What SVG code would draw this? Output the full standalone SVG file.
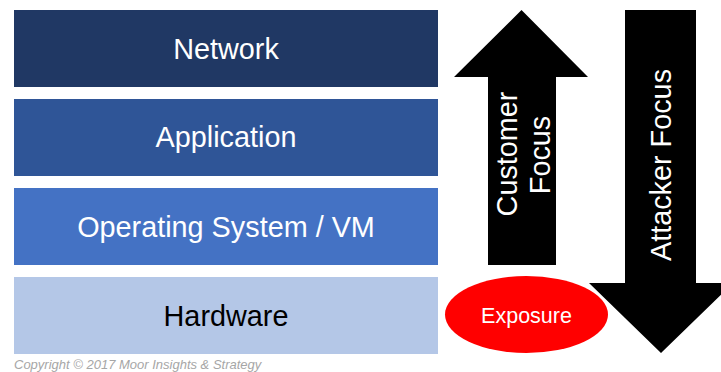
<svg xmlns="http://www.w3.org/2000/svg" width="721" height="372" viewBox="0 0 721 372">
  <style>
    .lbl { font-family: "Liberation Sans", Arial, sans-serif; font-size: 28.8px; text-anchor: middle; }
    .w { fill: #ffffff; }
    .arrow { fill: #000000; }
    .copy { font-family: "Liberation Sans", Arial, sans-serif; font-size: 13px; font-style: italic; fill: #A6A6A6; }
  </style>
  <rect width="721" height="372" fill="#ffffff"/>
  <g id="network">
    <rect x="14" y="10" width="424" height="77" fill="#203864"/>
    <text class="lbl w" x="226" y="59">Network</text>
  </g>
  <g id="application">
    <rect x="14" y="99" width="424" height="77" fill="#2F5597"/>
    <text class="lbl w" x="226" y="147">Application</text>
  </g>
  <g id="os">
    <rect x="14" y="188" width="424" height="77" fill="#4472C4"/>
    <text class="lbl w" x="226" y="237">Operating System / VM</text>
  </g>
  <g id="hardware">
    <rect x="14" y="277" width="424" height="77" fill="#B4C7E7"/>
    <text class="lbl" x="226" y="326" fill="#000000">Hardware</text>
  </g>
  <g id="customer-focus">
    <polygon class="arrow" points="521.5,10 588,77 556,77 556,265 488,265 488,77 454,77"/>
    <text class="lbl w" transform="translate(517,154) rotate(-90)" x="0" y="0">Customer</text>
    <text class="lbl w" transform="translate(550,155) rotate(-90)" x="0" y="0">Focus</text>
  </g>
  <g id="attacker-focus">
    <polygon class="arrow" points="625,10 696,10 696,283 733,283 661,353 589,283 625,283"/>
    <text class="lbl w" transform="translate(671,165) rotate(-90)" x="0" y="0">Attacker Focus</text>
  </g>
  <g id="exposure">
    <ellipse cx="526.5" cy="314.5" rx="81.5" ry="38.5" fill="#FF0000"/>
    <text x="526.5" y="323" text-anchor="middle" font-family="Liberation Sans, Arial, sans-serif" font-size="21.5" fill="#ffffff">Exposure</text>
  </g>
  <g id="connectors"/>
  <text class="copy" x="14" y="369">Copyright © 2017 Moor Insights &amp; Strategy</text>
</svg>
